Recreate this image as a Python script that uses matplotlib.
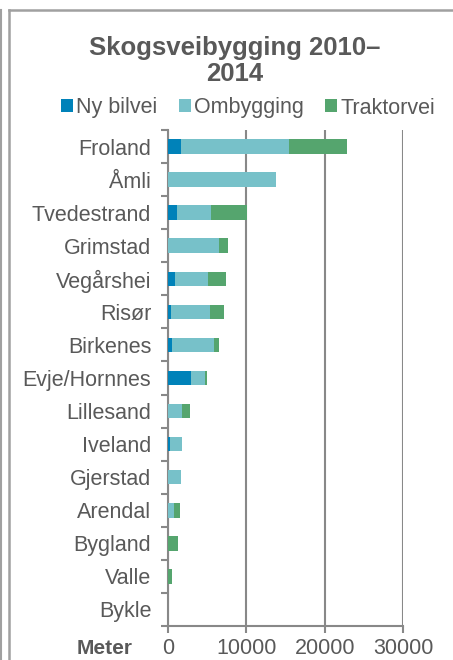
import matplotlib
matplotlib.use("Agg")
import matplotlib.pyplot as plt
import numpy as np
from matplotlib.lines import Line2D

categories = ["Froland", "Åmli", "Tvedestrand", "Grimstad", "Vegårshei", "Risør",
              "Birkenes", "Evje/Hornnes", "Lillesand", "Iveland", "Gjerstad",
              "Arendal", "Bygland", "Valle", "Bykle"]
ny_bilvei = [1600, 0, 1150, 0, 860, 350, 510, 2910, 0, 300, 0, 0, 0, 0, 0]
ombygging = [13900, 13800, 4400, 6460, 4200, 5040, 5350, 1800, 1840, 1540, 1630, 730, 0, 0, 0]
traktorvei = [7300, 0, 4550, 1200, 2400, 1790, 680, 260, 940, 0, 0, 860, 1240, 510, 0]
series_names = ["Ny bilvei", "Ombygging", "Traktorvei"]
colors = ["#0082B9", "#77C1C9", "#55A56E"]
xticks = [0, 10000, 20000, 30000]

plt.rcParams['font.family'] = ['Liberation Sans', 'DejaVu Sans']
gray = "#595959"
linegray = "#888888"
fs = 15.5

fig = plt.figure(figsize=(4.53, 6.60), dpi=100)
ax = fig.add_axes([168/453, 1-626/660, (403-168)/453, (626-130)/660])

y = np.arange(len(categories))
left = np.zeros(len(categories))
for vals, name, c in zip([ny_bilvei, ombygging, traktorvei], series_names, colors):
    v = np.array(vals, dtype=float)
    ax.barh(y, v, left=left, height=0.44, color=c, label=name, zorder=3)
    left += v

ax.set_ylim(len(categories)-0.5, -0.5)
ax.set_xlim(0, 30000)
ax.set_xticks(xticks)
ax.set_xticklabels([str(t) for t in xticks], fontsize=fs, color=gray)
ax.set_yticks(y)
ax.set_yticklabels(categories, fontsize=fs, color=gray)
ax.tick_params(axis='y', length=0, pad=12)
ax.set_yticks(np.arange(-0.5, len(categories)), minor=True)
ax.tick_params(axis='y', which='minor', length=5, width=1.5, color=linegray)
ax.tick_params(axis='x', length=5, width=1.5, color=linegray, pad=4)
ax.grid(axis='x', color=linegray, linewidth=1.5, zorder=0)
for s in ['top', 'right']:
    ax.spines[s].set_visible(False)
for s in ['left', 'bottom']:
    ax.spines[s].set_color(linegray)
    ax.spines[s].set_linewidth(1.5)

fig.text(235/453, 1-61/660, "Skogsveibygging 2010–\n2014", ha='center', va='center',
         fontsize=18.5, fontweight='bold', color=gray, linespacing=1.1)
fig.text(105/453, 1-648/660, "Meter", ha='center', va='center', fontsize=15,
         fontweight='bold', color=gray)

leg = fig.legend(loc='center', bbox_to_anchor=(248/453, 1-108/660), ncol=3, frameon=False,
                 fontsize=fs, handlelength=0.55, handleheight=0.55, handletextpad=0.15,
                 columnspacing=1.0, labelcolor=gray, borderpad=0)

# outer frame
fig.add_artist(Line2D([9/453, 9/453], [0, 1-10/660], transform=fig.transFigure, color="#A0A0A0", lw=1.8))
fig.add_artist(Line2D([9/453, 1], [1-10/660, 1-10/660], transform=fig.transFigure, color="#A0A0A0", lw=1.8))
fig.add_artist(Line2D([0.5/453, 0.5/453], [0, 1-10/660], transform=fig.transFigure, color="#A0A0A0", lw=1.5))

fig.savefig("out.png", dpi=100)
